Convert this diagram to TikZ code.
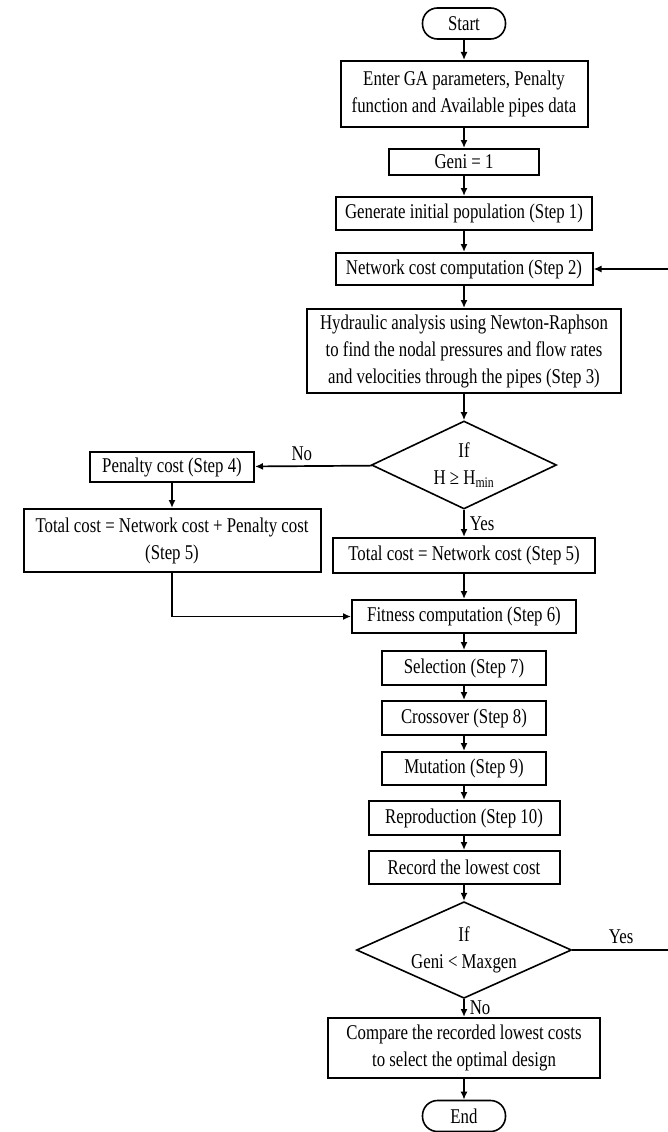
\documentclass[tikz,border=0pt]{standalone}
\usepackage{fontspec}
\setmainfont{Liberation Serif}[FakeStretch=0.8]
\usepackage{tikz}
\usetikzlibrary{arrows,arrows.meta}
\usetikzlibrary{positioning,shapes.geometric}

\begin{document}
\begin{tikzpicture}[x=1pt, y=-1pt, >={Latex[length=8pt,width=7pt]}, line width=1.7pt, every node/.style={font=\fontsize{21}{27}\selectfont, align=center, inner sep=0pt}]
		\tikzstyle{block}=[draw, rectangle, line width=2pt]
		\tikzstyle{terminal}=[draw, rectangle, line width=1.6pt, rounded corners=15pt, minimum width=83pt, minimum height=31pt]
		\tikzstyle{decision}=[draw, diamond, aspect=2.1, line width=1.6pt]
		\useasboundingbox (0,0) rectangle (667,1132);
		
		\node[terminal] (0) at (464,23.5) {Start};
		\node[block, minimum width=247pt, minimum height=66pt] (1) at (464,94) {Enter GA parameters, Penalty\\function and Available pipes data};
		\node[block, minimum width=150pt, minimum height=26pt] (2) at (464,162) {Geni = 1};
		\node[block, minimum width=256pt, minimum height=33pt] (3) at (464,213.5) {Generate initial population (Step 1)};
		\node[block, minimum width=257pt, minimum height=32pt] (4) at (464,269) {Network cost computation (Step 2)};
		\node[block, minimum width=314pt, minimum height=84pt] (5) at (464,351) {Hydraulic analysis using Newton-Raphson\\to find the nodal pressures and flow rates\\and velocities through the pipes (Step 3)};
		\node[decision, minimum width=185pt, minimum height=88pt] (6) at (464,465) {If\\H ≥ H\textsubscript{min}};
		\node[block, minimum width=164pt, minimum height=30pt] (7) at (172,467) {Penalty cost (Step 4)};
		\node[block, minimum width=297pt, minimum height=63pt] (8) at (172,540.5) {Total cost = Network cost + Penalty cost\\(Step 5)};
		\node[block, minimum width=262pt, minimum height=35pt] (9) at (464,555.5) {Total cost = Network cost (Step 5)};
		\node[block, minimum width=224pt, minimum height=33pt] (10) at (464,616.5) {Fitness computation (Step 6)};
		\node[block, minimum width=164pt, minimum height=34pt] (11) at (464,668) {Selection (Step 7)};
		\node[block, minimum width=164pt, minimum height=34pt] (12) at (464,718) {Crossover (Step 8)};
		\node[block, minimum width=164pt, minimum height=33pt] (13) at (464,768.5) {Mutation (Step 9)};
		\node[block, minimum width=191pt, minimum height=34pt] (14) at (464,818) {Reproduction (Step 10)};
		\node[block, minimum width=191pt, minimum height=33pt] (15) at (464,867.5) {Record the lowest cost};
		\node[decision, minimum width=215pt, minimum height=88pt] (16) at (464,950) {If\\Geni < Maxgen};
		\node[block, minimum width=272pt, minimum height=60pt] (17) at (464,1048) {Compare the recorded lowest costs\\to select the optimal design};
		\node[terminal] (18) at (464,1116) {End};
		\coordinate (loop) at (670,950);
		
		\path[->]
		(0) edge (1)
		(1) edge (2)
		(2) edge (3)
		(3) edge (4)
		(4) edge (5)
		(5) edge (6)
		
		(6) edge node [above=5pt, pos=0.6] {No} (7)
		(6) edge node [right=5pt] {Yes} (9)
		(7) edge (8)
		(9) edge (10)
		
		(10) edge (11)
		(11) edge (12)
		(12) edge (13)
		(13) edge (14)
		(14) edge (15)
		(15) edge (16)
		(16) edge node [right=5pt] {No} (17)
		(17) edge (18)
		;
		
		\draw[->] (8.south) |- (10.west);
		\draw[->] (16.east) -- node [above=5pt] {Yes} (loop) |- (4.east);
\end{tikzpicture}
\end{document}
